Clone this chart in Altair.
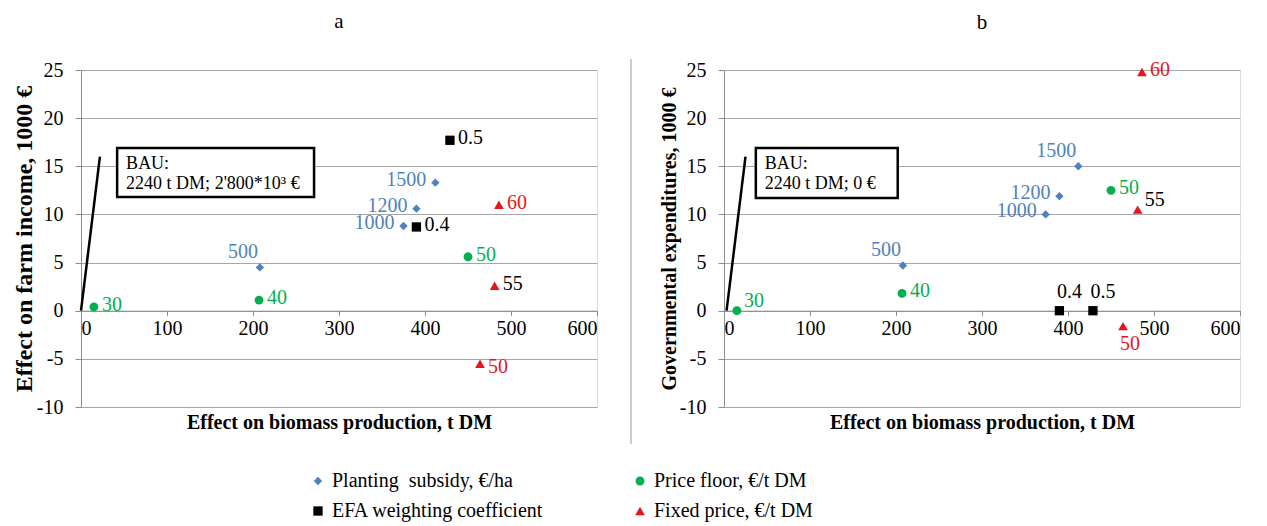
import altair as alt
import pandas as pd

FONT = "Liberation Serif"

SERIES = ["Planting\u00a0 subsidy, €/ha", "Price floor, €/t DM",
          "EFA weighting coefficient", "Fixed price, €/t DM"]
COLORS = ["#4F81BD", "#00B050", "#000000", "#E3171B"]
SHAPES = ["diamond", "circle", "square", "triangle-up"]

# ---- panel a: effect on farm income ----
a_planting_labels = ["500", "1000", "1200", "1500"]
a_planting_x = [208, 375, 390, 412]
a_planting_y = [4.5, 8.8, 10.6, 13.3]
a_floor_labels = ["30", "40", "50"]
a_floor_x = [15, 207, 450]
a_floor_y = [0.4, 1.1, 5.6]
a_efa_labels = ["0.4", "0.5"]
a_efa_x = [390, 429]
a_efa_y = [8.7, 17.7]
a_fixed_labels = ["50", "55", "60"]
a_fixed_x = [464, 481, 486]
a_fixed_y = [-5.5, 2.6, 11.0]

# ---- panel b: governmental expenditures ----
b_planting_labels = ["500", "1000", "1200", "1500"]
b_planting_x = [208, 374, 390, 412]
b_planting_y = [4.7, 10.0, 11.9, 15.0]
b_floor_labels = ["30", "40", "50"]
b_floor_x = [15, 207, 450]
b_floor_y = [0.0, 1.8, 12.5]
b_efa_labels = ["0.4", "0.5"]
b_efa_x = [390, 429]
b_efa_y = [0.0, 0.0]
b_fixed_labels = ["50", "55", "60"]
b_fixed_x = [464, 481, 486]
b_fixed_y = [-1.6, 10.5, 24.8]

# BAU annotation (line and box, in data units)
a_bau_line_x = [0, 22]
a_bau_line_y = [0, 16]
b_bau_line_x = [3, 25]
b_bau_line_y = [0, 16]
a_box = dict(x=42, x2=271, y=16.9, y2=11.8)
b_box = dict(x=37, x2=202, y=16.9, y2=11.7)
a_bau_text = ["BAU:", "2240 t DM;  2'800*10³ €"]
b_bau_text = ["BAU:", "2240 t DM;  0 €"]

X_TICKS = [0, 100, 200, 300, 400, 500, 600]
Y_TICKS = [-10, -5, 0, 5, 10, 15, 20, 25]

W, H = 516, 337


def build_df(groups):
    rows = []
    for s, labels, xs, ys in groups:
        for l, x, y in zip(labels, xs, ys):
            rows.append(dict(series=s, label=l, x=x, y=y))
    return pd.DataFrame(rows)


df_a = build_df([
    (SERIES[0], a_planting_labels, a_planting_x, a_planting_y),
    (SERIES[1], a_floor_labels, a_floor_x, a_floor_y),
    (SERIES[2], a_efa_labels, a_efa_x, a_efa_y),
    (SERIES[3], a_fixed_labels, a_fixed_x, a_fixed_y),
])
df_b = build_df([
    (SERIES[0], b_planting_labels, b_planting_x, b_planting_y),
    (SERIES[1], b_floor_labels, b_floor_x, b_floor_y),
    (SERIES[2], b_efa_labels, b_efa_x, b_efa_y),
    (SERIES[3], b_fixed_labels, b_fixed_x, b_fixed_y),
])

# label placement styles: (align, dx, dy)
PLACE = {
    "L": ("right", -9, -3),
    "AL": ("right", -2, -15),
    "R": ("left", 8, -2),
    "RA": ("left", 7, -10),
    "A": ("center", 10, -19),
    "B": ("center", 7, 18),
    "RB": ("left", 8, 3),
}
a_place = {
    (SERIES[0], "500"): "AL", (SERIES[0], "1000"): "L", (SERIES[0], "1200"): "L",
    (SERIES[0], "1500"): "L",
    (SERIES[1], "30"): "R", (SERIES[1], "40"): "R", (SERIES[1], "50"): "R",
    (SERIES[2], "0.4"): "R", (SERIES[2], "0.5"): "R",
    (SERIES[3], "50"): "RB", (SERIES[3], "55"): "R", (SERIES[3], "60"): "R",
}
b_place = {
    (SERIES[0], "500"): "AL", (SERIES[0], "1000"): "L", (SERIES[0], "1200"): "L",
    (SERIES[0], "1500"): "AL",
    (SERIES[1], "30"): "RA", (SERIES[1], "40"): "R", (SERIES[1], "50"): "R",
    (SERIES[2], "0.4"): "A", (SERIES[2], "0.5"): "A",
    (SERIES[3], "50"): "B", (SERIES[3], "55"): "RA", (SERIES[3], "60"): "R",
}

color_scale = alt.Scale(domain=SERIES, range=COLORS)
shape_scale = alt.Scale(domain=SERIES, range=SHAPES)
size_scale = alt.Scale(domain=SERIES, range=[70, 95, 100, 95])

x_scale = alt.Scale(domain=[0, 600], nice=False)
y_scale = alt.Scale(domain=[-10, 25], nice=False)

zero_offset = -(H * 10 / 35)
HYPHEN_EXPR = "datum.value < 0 ? '-' + format(abs(datum.value), 'd') : datum.label"


def panel(df, title, ytitle, ytitle_size, line_x, line_y, box, bau_text, place,
          legend, extra=None):
    xenc = alt.X("x:Q", scale=x_scale, axis=alt.Axis(
        values=X_TICKS, grid=False, offset=zero_offset,
        domainColor="#8c8c8c", tickColor="#8c8c8c", tickSize=5,
        labelFont=FONT, labelFontSize=20, labelColor="black", labelPadding=3,
        title="Effect on biomass production, t DM", titleFont=FONT,
        titleFontSize=20, titleFontWeight="bold", titleColor="black",
        titleY=112, titleBaseline="middle"))
    yenc = alt.Y("y:Q", scale=y_scale, axis=alt.Axis(
        values=Y_TICKS, grid=True, gridColor="#a6a6a6",
        domainColor="#8c8c8c", tickColor="#8c8c8c", tickSize=6,
        labelFont=FONT, labelFontSize=20, labelColor="black", labelPadding=12,
        labelExpr=HYPHEN_EXPR,
        title=ytitle, titleFont=FONT, titleFontSize=ytitle_size, titleFontWeight="bold",
        titleColor="black", titlePadding=0))

    base = alt.Chart(df)

    line_df = pd.DataFrame({"x": line_x, "y": line_y})
    bau_line = alt.Chart(line_df).mark_line(color="black", strokeWidth=2.5).encode(
        x=alt.X("x:Q", scale=x_scale), y=alt.Y("y:Q", scale=y_scale))

    box_df = pd.DataFrame([box])
    rect = alt.Chart(box_df).mark_rect(fill="white", stroke="black", strokeWidth=2.5).encode(
        x=alt.X("x:Q", scale=x_scale), x2="x2:Q",
        y=alt.Y("y:Q", scale=y_scale), y2="y2:Q")
    box_text = alt.Chart(box_df).mark_text(
        align="left", baseline="top", dx=9, dy=7, font=FONT, fontSize=18,
        lineHeight=20, color="black", text=bau_text).encode(
        x=alt.X("x:Q", scale=x_scale), y=alt.Y("y:Q", scale=y_scale))

    leg = alt.Legend(title=None, orient="none", legendX=227, legendY=401,
                     columns=2, direction="horizontal", columnPadding=86,
                     rowPadding=10, padding=0,
                     symbolSize=50, symbolStrokeWidth=0,
                     labelFont=FONT, labelFontSize=20, labelColor="black",
                     labelLimit=400, labelOffset=4) if legend else None

    points = base.mark_point(filled=True, opacity=1).encode(
        x=xenc, y=yenc,
        color=alt.Color("series:N", scale=color_scale, legend=leg),
        shape=alt.Shape("series:N", scale=shape_scale, legend=leg),
        size=alt.Size("series:N", scale=size_scale, legend=None),
    )

    layers = [bau_line, rect, box_text, points]
    for key, (align, dx, dy) in PLACE.items():
        keys = [k for k, v in place.items() if v == key]
        if not keys:
            continue
        sub = pd.concat([df[(df.series == s) & (df.label == l)] for s, l in keys])
        t = alt.Chart(sub).mark_text(
            align=align, dx=dx, dy=dy, baseline="middle", font=FONT, fontSize=20
        ).encode(
            x=alt.X("x:Q", scale=x_scale), y=alt.Y("y:Q", scale=y_scale),
            text="label:N",
            color=alt.condition(
                (alt.datum.label == "55") & (alt.datum.series == SERIES[3]),
                alt.value("black"),
                alt.Color("series:N", scale=color_scale, legend=None)),
        )
        layers.append(t)
    if extra is not None:
        layers.append(extra)

    return alt.layer(*layers).properties(
        width=W, height=H,
        title=alt.TitleParams(text=title, font=FONT, fontSize=21, fontWeight="normal",
                              color="black", frame="group", anchor="middle", offset=27),
    )


divider = alt.Chart(pd.DataFrame({"d": [0]})).mark_rule(color="#999999", strokeWidth=1).encode(
    x=alt.value(W + 34), y=alt.value(-11), y2=alt.value(H + 37))

pa = panel(df_a, "a", "Effect on farm income, 1000 €", 24, a_bau_line_x, a_bau_line_y,
           a_box, a_bau_text, a_place, True, extra=divider)
pb = panel(df_b, "b", "Governmental expenditures, 1000 €", 20, b_bau_line_x, b_bau_line_y,
           b_box, b_bau_text, b_place, False)

chart = alt.hconcat(pa, pb, spacing=26).properties(
    padding={"left": 3, "top": 2, "right": 5, "bottom": 5}
).configure_view(stroke=None).configure(font=FONT)

chart.save("out.html", embed_options={"renderer": "svg", "actions": False})
